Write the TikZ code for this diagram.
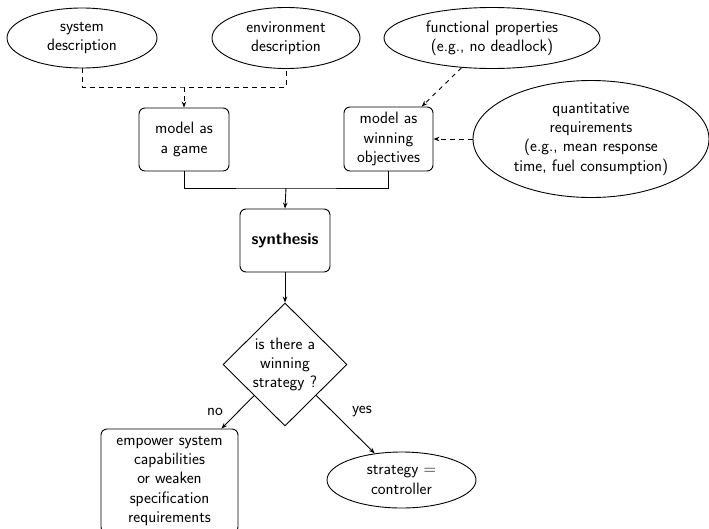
\documentclass[tikz,border=0pt]{standalone}
\usetikzlibrary{shapes.geometric,arrows.meta,calc}
\begin{document}
\begin{tikzpicture}[x=1pt,y=-1pt,
  font=\sffamily\fontsize{16.5}{19.3}\selectfont,
  every node/.style={inner sep=0pt, align=center},
  line width=0.9pt,
  oval/.style={draw, ellipse},
  rbox/.style={draw, rounded corners=6pt},
  diam/.style={draw, diamond},
  arr/.style={-{Stealth[length=6pt,width=4.5pt]}},
  dsh/.style={dash pattern=on 4.5pt off 4.5pt}]
\useasboundingbox (0,0) rectangle (709,528);
\node[oval, minimum width=150, minimum height=60] (sys) at (82,38) {system\\description};
\node[oval, minimum width=148, minimum height=61] (env) at (286,38) {environment\\description};
\node[oval, minimum width=216, minimum height=61] (fun) at (492,38) {functional properties\\(e.g., no deadlock)};
\node[oval, minimum width=236, minimum height=117] (qua) at (591,139) {quantitative\\requirements\\(e.g., mean response\\time, fuel consumption)};
\node[rbox, minimum width=90, minimum height=63] (game) at (184,139.5) {model as\\a game};
\node[rbox, minimum width=89, minimum height=64] (win) at (388.5,139) {model as\\winning\\objectives};
\node[rbox, minimum width=90, minimum height=63, font=\sffamily\bfseries\fontsize{16.5}{19.3}\selectfont] (syn) at (285,240.5) {synthesis};
\node[diam, minimum width=124, minimum height=123] (dec) at (285,364.5) {is there a\\winning\\strategy ?};
\node[rbox, minimum width=137, minimum height=104] (emp) at (169.5,481) {empower system\\capabilities\\or weaken\\specification\\requirements};
\node[oval, minimum width=149, minimum height=56] (ctl) at (401.5,480) {strategy $=$\\controller};
\coordinate (k) at (184,87);
\coordinate (j) at (286,188);
\draw[dsh] (sys.south) |- (k) -| (env.south);
\draw[dsh, arr] (k) -- (game.north);
\draw[dsh, arr] (fun) -- (win);
\draw[dsh, arr] (qua.west) -- (win.east);
\draw (game.south) |- (j) -| (win.south);
\draw[arr] (j) -- (syn.north);
\draw[arr] (syn.south) -- (dec.north);
\draw[arr] (dec) -- (emp);
\draw[arr] (dec) -- (ctl);
\node (no) at (215,412) {no};
\node (yes) at (362,412) {yes};
\end{tikzpicture}
\end{document}
